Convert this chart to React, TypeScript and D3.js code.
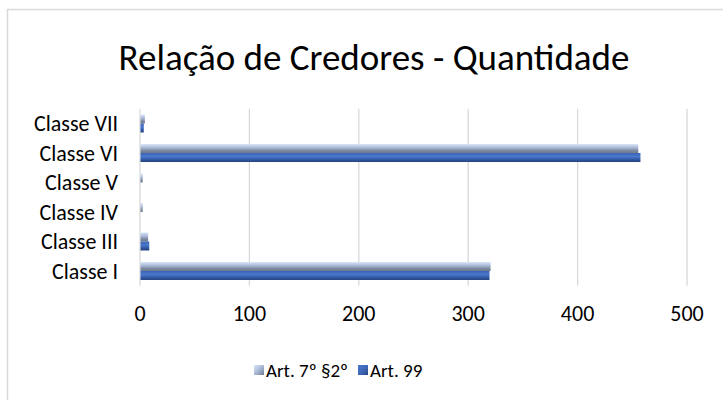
import React from "react";
import * as d3 from "d3";

const categories = ["Classe I", "Classe III", "Classe IV", "Classe V", "Classe VI", "Classe VII"];
const seriesNames = ["Art. 7º §2º", "Art. 99"];
const art7Values = [320, 7, 2, 2, 455, 4];
const art99Values = [319, 8, 0, 0, 457, 3];
const xTicks = [0, 100, 200, 300, 400, 500];
const title = "Relação de Credores - Quantidade";

const W = 723;
const H = 400;
const FONT = "Calibri, Carlito, 'Open Sans', 'Noto Sans', sans-serif";

export default function App() {
  const x = d3.scaleLinear().domain([0, 500]).range([140, 687]);
  const yBand = d3
    .scaleBand<string>()
    .domain([...categories].reverse())
    .range([108.75, 285.75])
    .paddingInner(0.39)
    .paddingOuter(0.195);
  const sub = d3.scaleBand<string>().domain(seriesNames).range([0, yBand.bandwidth()]);
  const values = [art7Values, art99Values];
  const fills = ["url(#gArt7)", "url(#gArt99)"];

  return (
    <svg width={W} height={H} style={{ position: "absolute", left: 0, top: 0 }}>
      <defs>
        <linearGradient id="gArt7" x1="0" y1="0" x2="0" y2="1">
          <stop offset="0%" stopColor="#dbe6f8" />
          <stop offset="40%" stopColor="#a9b9d6" />
          <stop offset="75%" stopColor="#7b879c" />
          <stop offset="100%" stopColor="#6e7a90" />
        </linearGradient>
        <linearGradient id="gArt99" x1="0" y1="0" x2="0" y2="1">
          <stop offset="0%" stopColor="#3b64b3" />
          <stop offset="40%" stopColor="#4a78cc" />
          <stop offset="75%" stopColor="#2f55a0" />
          <stop offset="100%" stopColor="#26447e" />
        </linearGradient>
        <linearGradient id="lArt7" x1="0" y1="0" x2="1" y2="1">
          <stop offset="0%" stopColor="#dbe6f8" />
          <stop offset="50%" stopColor="#a9b9d6" />
          <stop offset="100%" stopColor="#6e7a90" />
        </linearGradient>
        <linearGradient id="lArt99" x1="0" y1="0" x2="1" y2="1">
          <stop offset="0%" stopColor="#4a78cc" />
          <stop offset="60%" stopColor="#3b64b3" />
          <stop offset="100%" stopColor="#26447e" />
        </linearGradient>
      </defs>
      <rect x={0} y={0} width={W} height={H} fill="#ffffff" />
      <rect x={7.5} y={9.5} width={W + 10} height={H + 10} fill="#ffffff" stroke="#d9d9d9" strokeWidth={1.5} />
      <text x={374} y={70} textAnchor="middle" fontFamily={FONT} fontSize={37} fill="#000">
        {title}
      </text>
      {xTicks.map((t) => (
        <line key={"g" + t} x1={x(t)} x2={x(t)} y1={108.75} y2={285.75} stroke="#d9d9d9" strokeWidth={1.3} />
      ))}
      {categories.map((c, ci) =>
        seriesNames.map((s, si) => {
          const v = values[si][ci];
          if (v <= 0) return null;
          const y0 = (yBand(c) as number) + (sub(s) as number);
          return (
            <rect
              key={c + s}
              x={x(0) + 0.5}
              y={y0}
              width={Math.max(1.5, x(v) - x(0))}
              height={sub.bandwidth()}
              fill={fills[si]}
            />
          );
        })
      )}
      {categories.map((c) => (
        <text
          key={"l" + c}
          x={118}
          y={(yBand(c) as number) + yBand.bandwidth() / 2}
          dy="0.35em"
          textAnchor="end"
          fontFamily={FONT}
          fontSize={22}
          fill="#000"
        >
          {c}
        </text>
      ))}
      {xTicks.map((t) => (
        <text key={"t" + t} x={x(t)} y={321} textAnchor="middle" fontFamily={FONT} fontSize={22} fill="#000">
          {t}
        </text>
      ))}
      <g>
        <rect x={254} y={365} width={10} height={10} fill="url(#lArt7)" />
        <text x={266} y={377} fontFamily={FONT} fontSize={19} fill="#000">
          {seriesNames[0]}
        </text>
        <rect x={358} y={365} width={10} height={10} fill="url(#lArt99)" />
        <text x={370} y={377} fontFamily={FONT} fontSize={19} fill="#000">
          {seriesNames[1]}
        </text>
      </g>
    </svg>
  );
}
